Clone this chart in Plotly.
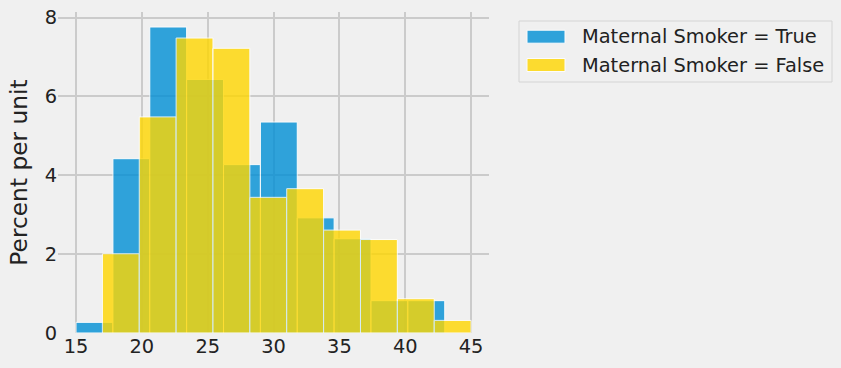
import plotly.graph_objects as go

# Bin edges (Maternal Age) and heights (percent per unit)
smoker_edges = [15.0, 17.8, 20.6, 23.4, 26.2, 29.0, 31.8, 34.6, 37.4, 40.2, 43.0]
smoker_heights = [0.27, 4.42, 7.76, 6.43, 4.27, 5.35, 2.92, 2.39, 0.82, 0.82]

nonsmoker_edges = [17.0, 19.8, 22.6, 25.4, 28.2, 31.0, 33.8, 36.6, 39.4, 42.2, 45.0]
nonsmoker_heights = [2.01, 5.48, 7.48, 7.22, 3.44, 3.66, 2.61, 2.37, 0.87, 0.32]

series_names = ["Maternal Smoker = True", "Maternal Smoker = False"]
series_colors = ["#008fd5", "#ffd700"]

x_ticks = [15, 20, 25, 30, 35, 40, 45]
y_ticks = [0, 2, 4, 6, 8]

W, H = 841, 368
L, R, T, B = 58, 489, 12, 333  # plot area in pixels


def centers_widths(edges):
    c = [(a + b) / 2 for a, b in zip(edges[:-1], edges[1:])]
    w = [b - a for a, b in zip(edges[:-1], edges[1:])]
    return c, w


def px(xp):
    return (xp - L) / (R - L)


def py(yp):
    return (B - yp) / (B - T)


sc, sw = centers_widths(smoker_edges)
nc, nw = centers_widths(nonsmoker_edges)

fig = go.Figure()
for (c, w, h), name, col in zip([(sc, sw, smoker_heights), (nc, nw, nonsmoker_heights)],
                                series_names, series_colors):
    fig.add_trace(go.Bar(
        x=c, y=h, width=w, name=name,
        marker=dict(color=col, line=dict(color="white", width=1)),
        opacity=0.8, showlegend=False,
    ))

font_family = "DejaVu Sans"
FS = 19.4

# custom legend (matplotlib-like wide patches)
shapes = []
annotations = []
shapes.append(dict(
    type="rect", xref="paper", yref="paper",
    x0=px(519), x1=px(832), y0=py(82), y1=py(21),
    line=dict(color="#d4d4d4", width=1), fillcolor="#f0f0f0", layer="above",
))
row_centers = [36.7, 65.0]
for yc, name, col in zip(row_centers, series_names, series_colors):
    shapes.append(dict(
        type="rect", xref="paper", yref="paper",
        x0=px(527), x1=px(565), y0=py(yc + 6.5), y1=py(yc - 6.5),
        fillcolor=col, opacity=0.8, line=dict(color="white", width=1), layer="above",
    ))
    annotations.append(dict(
        xref="paper", yref="paper", x=px(580), y=py(yc),
        xanchor="left", yanchor="middle", text=name, showarrow=False,
        font=dict(family=font_family, size=FS, color="#222222"),
    ))

fig.update_layout(
    width=W, height=H,
    barmode="overlay",
    paper_bgcolor="#f0f0f0", plot_bgcolor="#f0f0f0",
    margin=dict(l=L, r=W - R, t=T, b=H - B),
    font=dict(family=font_family, size=FS, color="#222222"),
    showlegend=False,
    shapes=shapes, annotations=annotations,
)
fig.update_xaxes(
    range=[13.63, 46.36], tickvals=x_ticks, showgrid=True,
    gridcolor="#cbcbcb", gridwidth=1.5, zeroline=False, showline=False,
    ticks="", tickfont=dict(size=FS), automargin=False,
)
fig.update_yaxes(
    range=[0, 8.14], tickvals=y_ticks, showgrid=True,
    gridcolor="#cbcbcb", gridwidth=1.5, zeroline=False, showline=False,
    ticks="", tickfont=dict(size=FS), automargin=False,
    title=dict(text="Percent per unit", font=dict(size=23.3), standoff=10),
)

fig.write_html("out.html", config={"displayModeBar": False},
               post_script="document.body.style.margin='0';")
